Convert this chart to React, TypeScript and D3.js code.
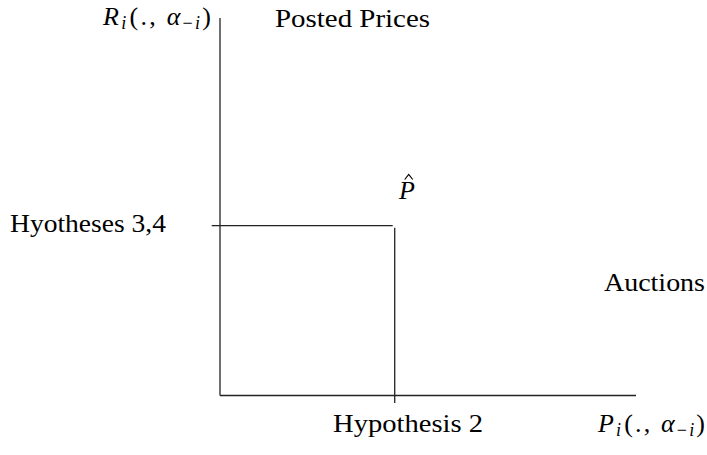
import React from "react";
import * as d3 from "d3";

// Data (unit coordinates of the diagram)
const axisExtentX = [0, 1];
const axisExtentY = [0, 1];
const pHat = { x: 0.42, y: 0.45 };
const tickOvershoot = 0.02;
const regionLabels = ["Posted Prices", "Auctions"];
const hypothesisLabels = ["Hyotheses 3,4", "Hypothesis 2"];

const W = 707;
const H = 455;
const FONT = "'Liberation Serif', 'DejaVu Serif', serif";

export default function App() {
  const x = d3.scaleLinear().domain(axisExtentX).range([220, 636]);
  const y = d3.scaleLinear().domain(axisExtentY).range([395.5, 18]);
  const stroke = "#222";
  const fs = 26;
  const sub = 18;

  const MathLabel = ({ main, sx, base, width }: { main: string; sx: number; base: number; width: number }) => (
    <text x={sx} y={base} fontFamily={FONT} fontSize={fs} fill="#000" textLength={width} lengthAdjust="spacing">
      <tspan fontStyle="italic">{main}</tspan>
      <tspan fontSize={sub} fontStyle="italic" dy={4}>i</tspan>
      <tspan dy={-4} dx={1}>(., </tspan>
      <tspan fontStyle="italic">α</tspan>
      <tspan fontSize={sub} dy={4}>−</tspan>
      <tspan fontSize={sub} fontStyle="italic">i</tspan>
      <tspan dy={-4}>)</tspan>
    </text>
  );

  const px = x(pHat.x);
  return (
    <svg
      width={W}
      height={H}
      style={{ position: "absolute", left: 0, top: 0, background: "#fff" }}
    >
      {/* axes */}
      <line x1={x(0)} y1={y(axisExtentY[1])} x2={x(0)} y2={y(0)} stroke={stroke} strokeWidth={1.3} />
      <line x1={x(0)} y1={y(0)} x2={x(axisExtentX[1])} y2={y(0)} stroke={stroke} strokeWidth={1.3} />
      {/* P-hat guide lines */}
      <line x1={x(-tickOvershoot)} y1={y(pHat.y)} x2={px - 2} y2={y(pHat.y)} stroke={stroke} strokeWidth={1.3} />
      <line x1={px} y1={y(pHat.y) + 2} x2={px} y2={y(-tickOvershoot)} stroke={stroke} strokeWidth={1.3} />

      {/* labels */}
      <MathLabel main="R" sx={103} base={25} width={108} />
      <MathLabel main="P" sx={598} base={432} width={107} />
      <text x={275} y={27} fontFamily={FONT} fontSize={fs} textLength={155} lengthAdjust="spacingAndGlyphs">{regionLabels[0]}</text>
      <text x={604} y={291} fontFamily={FONT} fontSize={fs} textLength={101} lengthAdjust="spacingAndGlyphs">{regionLabels[1]}</text>
      <text x={10} y={232} fontFamily={FONT} fontSize={fs} textLength={156} lengthAdjust="spacingAndGlyphs">{hypothesisLabels[0]}</text>
      <text x={333} y={432} fontFamily={FONT} fontSize={fs} textLength={150} lengthAdjust="spacingAndGlyphs">{hypothesisLabels[1]}</text>
      <text x={399} y={199} fontFamily={FONT} fontSize={fs} fontStyle="italic">P</text>
      <path d={`M${px + 10},${179.5} L${px + 14},${174.5} L${px + 18},${179.5}`} fill="none" stroke="#000" strokeWidth={1.2} />
    </svg>
  );
}
